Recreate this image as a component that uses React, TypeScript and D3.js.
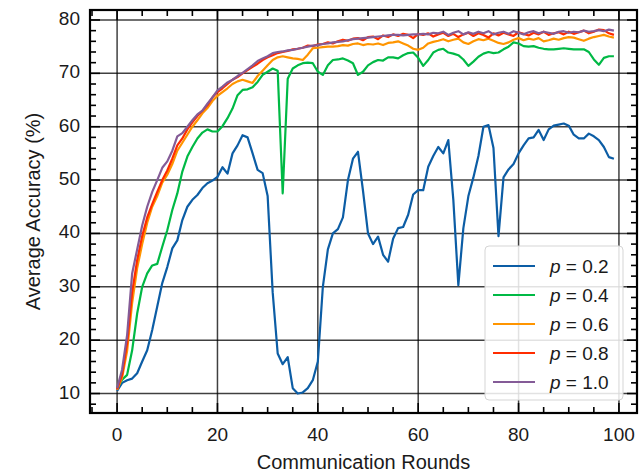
import React, { useEffect, useRef } from "react";
import * as d3 from "d3";

// Communication rounds 0..99
const rounds: number[] = d3.range(0, 100);

const seriesNames = ["0.2", "0.4", "0.6", "0.8", "1.0"];
const seriesColors = ["#0C5DA5", "#00B945", "#FF9500", "#FF2C00", "#845B97"];

const accP02 = [
  10.5, 12.0, 12.5, 12.8, 13.8, 16.0, 18.1, 21.9, 26.3, 30.7,
  33.7, 37.2, 38.7, 42.5, 45.0, 46.3, 47.2, 48.5, 49.4, 49.9,
  50.6, 52.4, 51.2, 55.0, 56.5, 58.4, 58.0, 55.0, 51.9, 51.3,
  47.0, 29.0, 17.5, 15.5, 16.8, 11.0, 10.0, 10.2, 11.0, 12.5,
  16.0, 30.0, 37.0, 40.0, 40.8, 43.0, 50.0, 54.0, 55.3, 48.0,
  40.0, 38.0, 39.4, 36.0, 34.7, 39.0, 41.0, 41.2, 43.5, 47.3,
  48.1, 48.1, 52.5, 54.5, 56.2, 55.0, 57.5, 46.3, 30.3, 41.0,
  47.0, 50.5, 54.5, 60.0, 60.3, 56.0, 39.5, 50.5, 52.0, 53.0,
  55.0, 56.5, 57.8, 58.0, 59.4, 57.5, 59.5, 60.2, 60.4, 60.6,
  60.2, 58.5, 57.8, 57.8, 58.7, 58.2, 57.5, 56.2, 54.3, 54.0,
];

const accP04 = [
  11.0, 12.6, 13.5, 18.1, 25.0, 30.0, 32.5, 34.0, 34.3, 37.5,
  40.6, 44.4, 47.5, 51.6, 54.4, 56.2, 57.8, 58.9, 59.5, 59.1,
  59.1, 60.1, 61.6, 63.4, 65.9, 66.9, 67.0, 67.4, 68.4, 69.7,
  70.3, 70.9, 70.5, 47.5, 69.0, 70.9, 71.5, 71.9, 72.0, 71.9,
  70.3, 69.7, 71.5, 72.5, 72.6, 72.8, 72.4, 71.9, 69.7, 70.3,
  71.5, 72.1, 72.5, 72.4, 73.0, 73.0, 72.8, 73.4, 73.8, 73.9,
  72.9, 71.4, 72.5, 73.9, 74.4, 74.6, 73.9, 73.7, 73.4, 72.6,
  71.4, 72.2, 73.1, 73.7, 74.0, 73.8, 73.9, 74.5, 75.0, 75.8,
  75.6, 75.1, 75.0, 75.1, 74.8, 74.6, 74.5, 74.5, 74.6, 74.7,
  74.6, 74.5, 74.5, 74.5, 74.0, 72.6, 71.6, 72.9, 73.2, 73.2,
];

const accP06 = [
  10.7, 13.0, 18.0, 27.0, 33.5, 38.0, 42.0, 45.0, 47.0, 49.5,
  51.0, 53.0, 55.5, 57.0, 58.5, 60.0, 61.2, 62.5, 63.5, 64.8,
  65.8, 66.5, 67.2, 68.0, 68.5, 68.8, 68.5, 68.2, 69.5, 70.5,
  71.5, 72.5, 73.0, 73.2, 73.0, 72.8, 72.7, 72.5, 73.5, 74.7,
  74.8, 74.9, 75.0, 75.0, 75.1, 75.3, 75.2, 75.5, 75.6, 75.3,
  75.5, 75.4, 75.6, 75.3, 75.7, 75.8, 76.0, 75.6, 75.2, 74.6,
  74.4, 74.8, 75.6, 75.9, 76.1, 76.4, 76.0, 76.3, 76.5, 75.8,
  75.5, 76.0, 76.4, 76.2, 76.5, 76.1, 75.7, 75.5, 75.8, 76.3,
  76.6, 76.2, 76.5, 76.3, 76.6, 76.0, 76.2, 76.5, 76.3, 76.6,
  76.8, 76.7, 76.4, 76.1, 76.5, 76.8, 77.0, 77.2, 76.9, 76.7,
];

const accP08 = [
  10.8, 13.5, 19.5, 29.0, 35.0, 39.5, 43.0, 45.5, 47.8, 50.0,
  51.8, 54.0, 56.5, 57.8, 59.5, 60.8, 62.0, 63.0, 64.0, 65.5,
  66.5, 67.2, 68.0, 68.8, 69.3, 70.0, 70.6, 71.2, 71.8, 72.5,
  73.0, 73.4, 73.8, 74.0, 74.2, 74.5, 74.6, 74.8, 75.2, 75.1,
  75.4, 75.5, 75.8, 75.6, 76.0, 76.3, 76.1, 76.5, 76.6, 76.2,
  76.8, 76.9, 76.4, 77.1, 76.8, 77.3, 77.0, 77.4, 77.2, 76.6,
  77.4, 77.2, 77.5, 76.9, 77.3, 77.6, 77.0, 77.4, 76.8, 77.3,
  77.6, 77.0, 77.5, 77.2, 76.7, 77.5, 77.1, 77.6, 77.3, 77.0,
  77.7, 77.4, 77.1, 77.6, 77.3, 77.8, 77.2, 77.5, 77.7, 77.3,
  77.8, 77.4, 77.7, 78.0, 77.5, 77.8, 78.2, 78.1, 77.5, 77.2,
];

const accP10 = [
  11.0, 14.5, 21.0, 32.5, 37.0, 41.5, 45.0, 47.8, 50.0, 52.3,
  53.5, 55.5, 58.2, 58.8, 60.0, 61.2, 62.3, 63.0, 64.3, 65.5,
  66.8, 67.5, 68.3, 68.8, 69.5, 70.1, 70.8, 71.5, 72.3, 72.8,
  73.2, 73.8, 74.0, 74.1, 74.3, 74.4, 74.6, 74.8, 75.0, 75.2,
  75.3, 75.5, 75.6, 75.8, 75.9, 76.0, 76.2, 76.4, 76.5, 76.6,
  76.7, 76.8, 76.9, 77.0, 77.1, 77.2, 77.2, 77.1, 77.2, 77.3,
  77.3, 77.4, 77.3, 77.6, 77.5, 77.8, 77.2, 77.6, 77.9, 77.3,
  77.7, 77.4, 77.8, 77.5, 77.9, 77.3, 77.6, 77.8, 77.4, 77.9,
  77.6, 77.3, 77.7, 77.9, 77.5, 77.8, 77.6, 77.4, 77.8, 77.9,
  77.6, 77.8, 77.7, 78.0, 77.8, 77.9, 78.1, 77.9, 78.2, 78.0,
];

const allSeries = [accP02, accP04, accP06, accP08, accP10];

const xTicks = [0, 20, 40, 60, 80, 100];
const yTicks = [10, 20, 30, 40, 50, 60, 70, 80];

export default function App() {
  const svgRef = useRef<SVGSVGElement>(null);

  useEffect(() => {
    const width = 642;
    const height = 473;
    const margin = { top: 10, right: 5, bottom: 60, left: 90 };
    const font = "'Liberation Sans', Arial, sans-serif";

    const svg = d3.select(svgRef.current);
    svg.selectAll("*").remove();
    svg.attr("viewBox", `0 0 ${width} ${height}`);

    const x = d3
      .scaleLinear()
      .domain([-5.4, 103.6])
      .range([margin.left, width - margin.right]);
    const y = d3
      .scaleLinear()
      .domain([6.35, 81.87])
      .range([height - margin.bottom, margin.top]);

    const [x0, x1] = x.range();
    const [y0, y1] = y.range(); // y0 bottom, y1 top

    svg
      .append("defs")
      .append("clipPath")
      .attr("id", "plot-clip")
      .append("rect")
      .attr("x", x0)
      .attr("y", y1)
      .attr("width", x1 - x0)
      .attr("height", y0 - y1);

    // grid
    const grid = svg.append("g").attr("stroke", "#000").attr("stroke-opacity", 0.75).attr("stroke-width", 1.5);
    xTicks.forEach((t) => {
      grid.append("line").attr("x1", x(t)).attr("x2", x(t)).attr("y1", y1).attr("y2", y0);
    });
    yTicks.forEach((t) => {
      grid.append("line").attr("x1", x0).attr("x2", x1).attr("y1", y(t)).attr("y2", y(t));
    });

    // lines
    const line = d3
      .line<number>()
      .x((_, i) => x(rounds[i]))
      .y((d) => y(d));

    const lines = svg.append("g").attr("clip-path", "url(#plot-clip)");
    allSeries.forEach((s, i) => {
      lines
        .append("path")
        .datum(s)
        .attr("d", line)
        .attr("fill", "none")
        .attr("stroke", seriesColors[i])
        .attr("stroke-width", 2.2)
        .attr("stroke-linejoin", "round");
    });

    // ticks (inward, all four sides)
    const ticks = svg.append("g").attr("stroke", "#000").attr("stroke-width", 1.6);
    const xMinor = d3.range(-5, 105, 5);
    const yMinor = d3.range(8, 82, 2);
    xMinor.forEach((t) => {
      const len = t % 20 === 0 ? 10 : 6;
      ticks.append("line").attr("x1", x(t)).attr("x2", x(t)).attr("y1", y0).attr("y2", y0 - len);
      ticks.append("line").attr("x1", x(t)).attr("x2", x(t)).attr("y1", y1).attr("y2", y1 + len);
    });
    yMinor.forEach((t) => {
      const len = t % 10 === 0 ? 10 : 6;
      ticks.append("line").attr("x1", x0).attr("x2", x0 + len).attr("y1", y(t)).attr("y2", y(t));
      ticks.append("line").attr("x1", x1).attr("x2", x1 - len).attr("y1", y(t)).attr("y2", y(t));
    });

    // frame
    svg
      .append("rect")
      .attr("x", x0)
      .attr("y", y1)
      .attr("width", x1 - x0)
      .attr("height", y0 - y1)
      .attr("fill", "none")
      .attr("stroke", "#000")
      .attr("stroke-width", 2.2);

    // tick labels
    svg
      .append("g")
      .selectAll("text")
      .data(xTicks)
      .join("text")
      .attr("x", (d) => x(d))
      .attr("y", y0 + 28)
      .attr("text-anchor", "middle")
      .attr("font-family", font)
      .attr("font-size", 19)
      .attr("fill", "#1a1a1a")
      .text((d) => d);

    svg
      .append("g")
      .selectAll("text")
      .data(yTicks)
      .join("text")
      .attr("x", x0 - 10)
      .attr("y", (d) => y(d) + 5)
      .attr("text-anchor", "end")
      .attr("font-family", font)
      .attr("font-size", 19)
      .attr("fill", "#1a1a1a")
      .text((d) => d);

    // axis labels
    svg
      .append("text")
      .attr("x", (x0 + x1) / 2)
      .attr("y", height - 4)
      .attr("text-anchor", "middle")
      .attr("font-family", font)
      .attr("font-size", 20)
      .attr("fill", "#1a1a1a")
      .text("Communication Rounds");

    svg
      .append("text")
      .attr("transform", `translate(40, ${(y0 + y1) / 2}) rotate(-90)`)
      .attr("text-anchor", "middle")
      .attr("font-family", font)
      .attr("font-size", 20)
      .attr("fill", "#1a1a1a")
      .text("Average Accuracy (%)");

    // legend
    const lg = svg.append("g").attr("transform", "translate(485, 246)");
    lg.append("rect")
      .attr("width", 138)
      .attr("height", 154)
      .attr("rx", 4)
      .attr("fill", "#fff")
      .attr("fill-opacity", 0.85)
      .attr("stroke", "#d5d5d5")
      .attr("stroke-width", 1);
    seriesNames.forEach((name, i) => {
      const ly = 20 + i * 29;
      lg.append("line")
        .attr("x1", 8)
        .attr("x2", 50)
        .attr("y1", ly)
        .attr("y2", ly)
        .attr("stroke", seriesColors[i])
        .attr("stroke-width", 2.2);
      const t = lg
        .append("text")
        .attr("x", 65)
        .attr("y", ly + 7)
        .attr("font-family", font)
        .attr("font-size", 19)
        .attr("fill", "#1a1a1a");
      t.append("tspan").attr("font-style", "italic").text("p");
      t.append("tspan").text(` = ${name}`);
    });
  }, []);

  return (
    <svg
      ref={svgRef}
      width={642}
      height={473}
      style={{ position: "absolute", left: 0, top: 0, background: "#fff" }}
    ></svg>
  );
}
